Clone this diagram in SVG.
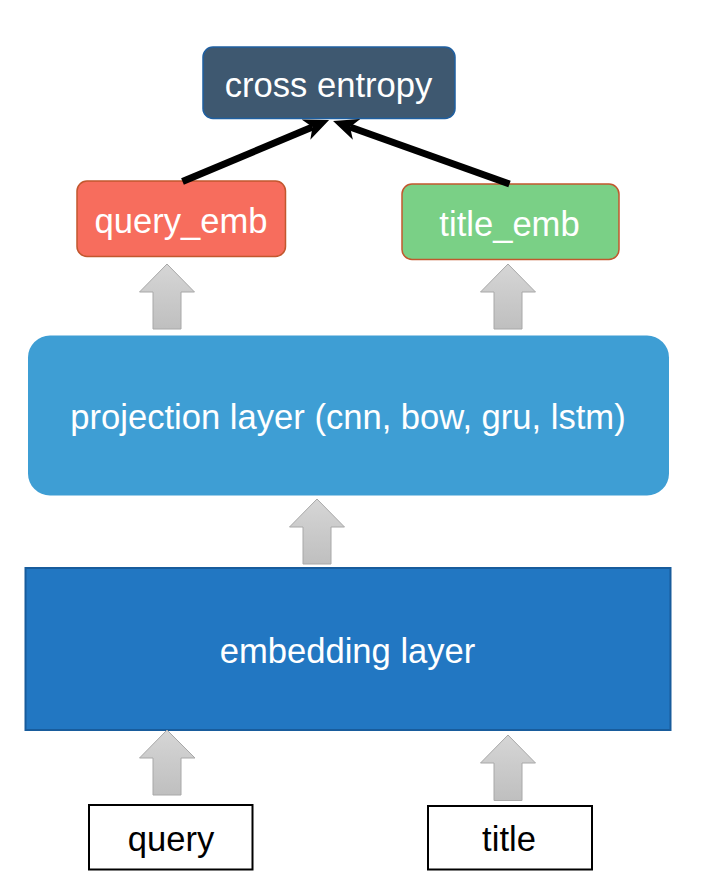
<svg xmlns="http://www.w3.org/2000/svg" width="701" height="893" viewBox="0 0 701 893">
<defs>
<linearGradient id="gg" x1="0" y1="0" x2="0" y2="1">
<stop offset="0" stop-color="#d6d6d6"/>
<stop offset="1" stop-color="#bfbfbf"/>
</linearGradient>
<marker id="ah" markerUnits="userSpaceOnUse" markerWidth="26" markerHeight="24" viewBox="0 0 26 24" refX="7" refY="12" orient="auto">
<path d="M0,1 L25,12 L0,23 L7,12 z" fill="#000"/>
</marker>
</defs>
<style>
.t{font-family:"Liberation Sans",Arial,sans-serif;font-size:34.6px;text-anchor:middle;fill:#fff}
.tb{font-family:"Liberation Sans",Arial,sans-serif;font-size:34.6px;text-anchor:middle;fill:#000}
.g{fill:url(#gg);stroke:#a8a8a8;stroke-width:1}
.c{stroke:#000;stroke-width:7;fill:none}
</style>
<rect width="701" height="893" fill="#fff"/>
<g id="cross_entropy">
<rect x="203" y="47" width="252" height="71.5" rx="10" fill="#3e5870" stroke="#1f5fa0" stroke-width="1.5"/>
<text class="t" x="328.5" y="97">cross entropy</text>
</g>
<g id="query_emb">
<rect x="77" y="181" width="208.5" height="75.5" rx="10" fill="#f76d5d" stroke="#c2572e" stroke-width="1.5"/>
<text class="t" x="181" y="233">query_emb</text>
</g>
<g id="title_emb">
<rect x="402" y="184" width="217" height="75.5" rx="10" fill="#7ad086" stroke="#c2572e" stroke-width="1.5"/>
<text class="t" x="509.5" y="236">title_emb</text>
</g>
<g id="projection_layer">
<rect x="28" y="335.5" width="641" height="160" rx="22" fill="#3e9ed4"/>
<text class="t" x="348" y="429">projection layer (cnn, bow, gru, lstm)</text>
</g>
<g id="embedding_layer">
<rect x="25.5" y="568" width="645" height="162" fill="#2277c2" stroke="#185c9c" stroke-width="2"/>
<text class="t" x="347.5" y="663">embedding layer</text>
</g>
<g id="query">
<rect x="89" y="805" width="163.5" height="64.5" fill="#fff" stroke="#000" stroke-width="2"/>
<text class="tb" x="171" y="851">query</text>
</g>
<g id="title">
<rect x="428" y="806" width="164" height="63.5" fill="#fff" stroke="#000" stroke-width="2"/>
<text class="tb" x="509" y="851">title</text>
</g>
<g id="connectors">
<line class="c" x1="182.5" y1="181.5" x2="312.5" y2="127" marker-end="url(#ah)"/>
<line class="c" x1="509.5" y1="184" x2="350" y2="127" marker-end="url(#ah)"/>
<path class="g" d="M167,264 L194.5,292 L181,292 L181,329 L153,329 L153,292 L139.5,292 Z"/>
<path class="g" d="M508,264 L535.5,292 L522,292 L522,329 L494,329 L494,292 L480.5,292 Z"/>
<path class="g" d="M317,499 L344.5,527 L331,527 L331,564 L303,564 L303,527 L289.5,527 Z"/>
<path class="g" d="M167,730 L195,758 L181,758 L181,795 L153,795 L153,758 L139.5,758 Z"/>
<path class="g" d="M508,735 L535.5,763 L522,763 L522,800.5 L494,800.5 L494,763 L480.5,763 Z"/>
</g>
</svg>
